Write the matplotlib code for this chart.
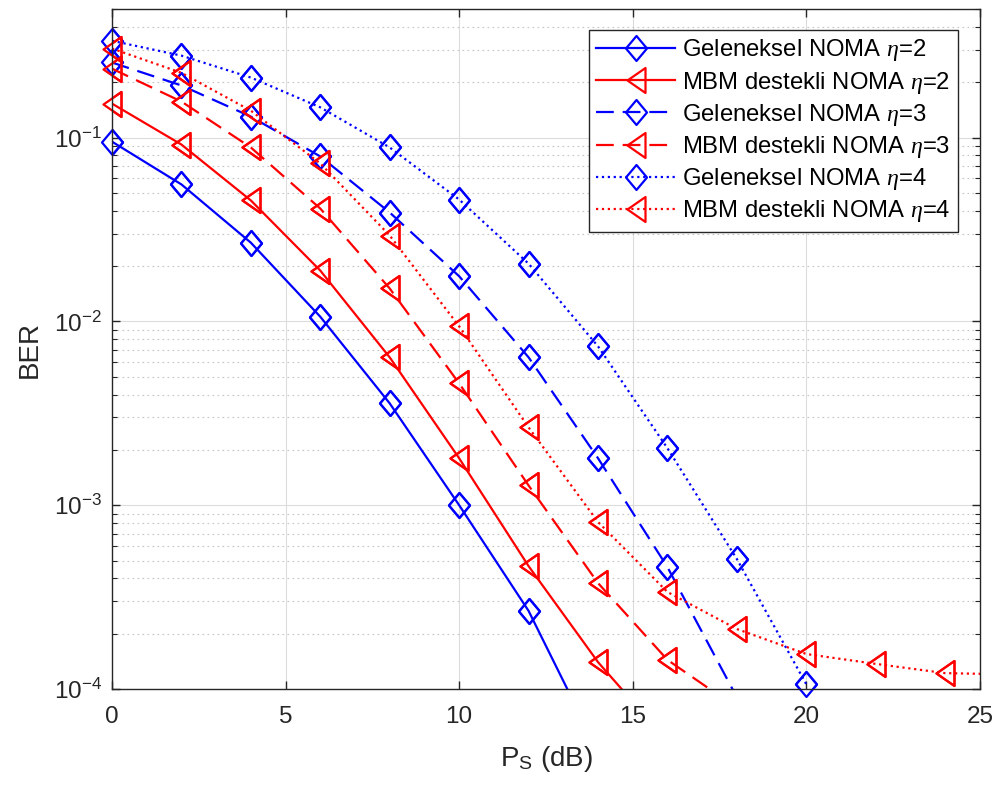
"""BER vs P_S: conventional NOMA vs MBM-aided NOMA for eta = 2, 3, 4."""
import matplotlib
matplotlib.use("Agg")
import matplotlib.pyplot as plt
import numpy as np
from matplotlib.path import Path
from matplotlib.ticker import LogLocator, NullFormatter, FixedLocator

plt.rcParams["font.family"] = ["Liberation Sans", "DejaVu Sans"]
plt.rcParams["mathtext.fontset"] = "custom"
plt.rcParams["mathtext.rm"] = "Liberation Sans"
plt.rcParams["mathtext.it"] = "Liberation Serif:italic"
plt.rcParams["mathtext.bf"] = "Liberation Sans:bold"
plt.rcParams["axes.unicode_minus"] = False

# ---- data ----
x_conv2 = [0, 2, 4, 6, 8, 10, 12, 14]
ber_conv2 = [0.095, 0.0556, 0.0268, 0.0106, 0.00358, 0.00100, 2.66e-4, 4.6e-5]

x_mbm2 = [0, 2, 4, 6, 8, 10, 12, 14, 16]
ber_mbm2 = [0.153, 0.0916, 0.0455, 0.0189, 0.00637, 0.00180, 4.66e-4, 1.40e-4, 5.2e-5]

x_conv3 = [0, 2, 4, 6, 8, 10, 12, 14, 16, 18]
ber_conv3 = [0.256, 0.192, 0.130, 0.0789, 0.0391, 0.0176, 0.00637, 0.00180, 4.6e-4, 9.0e-5]

x_mbm3 = [0, 2, 4, 6, 8, 10, 12, 14, 16, 18]
ber_mbm3 = [0.237, 0.157, 0.0883, 0.0411, 0.0151, 0.0046, 0.00128, 3.77e-4, 1.44e-4, 7.9e-5]

x_conv4 = [0, 2, 4, 6, 8, 10, 12, 14, 16, 18, 20]
ber_conv4 = [0.336, 0.279, 0.212, 0.146, 0.0883, 0.046, 0.0206, 0.00731, 0.00204, 5.09e-4, 1.06e-4]

x_mbm4 = [0, 2, 4, 6, 8, 10, 12, 14, 16, 18, 20, 22, 24, 26]
ber_mbm4 = [0.305, 0.225, 0.140, 0.0723, 0.0293, 0.0094, 0.00265, 8.1e-4, 3.37e-4,
            2.12e-4, 1.55e-4, 1.37e-4, 1.22e-4, 1.20e-4]

labels = [r"Geleneksel NOMA $\eta$=2", r"MBM destekli NOMA $\eta$=2",
          r"Geleneksel NOMA $\eta$=3", r"MBM destekli NOMA $\eta$=3",
          r"Geleneksel NOMA $\eta$=4", r"MBM destekli NOMA $\eta$=4"]

# MATLAB-like markers
DIAMOND = Path([(0, 1), (0.84, 0), (0, -1), (-0.84, 0), (0, 1)], closed=True)
LTRI = Path([(-0.72, 0), (0.72, 1), (0.72, -1), (-0.72, 0)], closed=True)

BLUE, RED = "#0000ff", "#ff0000"
DASH = (0, (8, 4))

series = [
    (x_conv2, ber_conv2, BLUE, "-", DIAMOND),
    (x_mbm2, ber_mbm2, RED, "-", LTRI),
    (x_conv3, ber_conv3, BLUE, DASH, DIAMOND),
    (x_mbm3, ber_mbm3, RED, DASH, LTRI),
    (x_conv4, ber_conv4, BLUE, ":", DIAMOND),
    (x_mbm4, ber_mbm4, RED, ":", LTRI),
]

YMIN, YMAX = 1e-4, 0.5

fig = plt.figure(figsize=(9.96, 7.87), dpi=100)
ax = fig.add_axes([0.1124, 0.1245, 0.8715, 0.864])

for (x, y, c, ls, m), lab in zip(series, labels):
    x = np.array(x)
    y = np.array(y)
    idx = np.where((y >= YMIN) & (x <= 25))[0]
    ax.plot(x, y, color=c, ls=ls, lw=1.6, marker=m, ms=18, mfc="none",
            mec=c, mew=1.6, markevery=list(idx), label=lab)
    # markers are not cut at the axes edge in the original
    ax.plot(x[idx], y[idx], ls="none", marker=m, ms=18, mfc="none",
            mec=c, mew=1.6, clip_on=False)

ax.set_yscale("log")
ax.set_xlim(0, 25)
ax.set_ylim(YMIN, YMAX)
ax.set_xticks([0, 5, 10, 15, 20, 25])
ax.yaxis.set_major_locator(FixedLocator([1e-4, 1e-3, 1e-2, 1e-1]))
ax.yaxis.set_minor_locator(LogLocator(base=10, subs=np.arange(2, 10), numticks=20))
ax.yaxis.set_minor_formatter(NullFormatter())

ax.set_axisbelow(True)
ax.grid(True, which="major", color="#dcdcdc", lw=0.8, ls="-")
ax.grid(True, which="minor", axis="y", color="#c4c4c4", lw=0.8, ls=(0, (1.5, 3)))

ax.tick_params(which="both", direction="in", top=True, right=True,
               colors="#262626", labelsize=17.5)
ax.tick_params(which="major", length=6, width=1.0)
ax.tick_params(which="minor", length=3.5, width=0.8)
ax.tick_params(axis="x", pad=12)
ax.tick_params(axis="y", pad=7)
for s in ax.spines.values():
    s.set_color("#262626")
    s.set_linewidth(1.0)

ax.set_xlabel(r"P$_{\mathrm{S}}$ (dB)", fontsize=20, color="#262626", labelpad=12)
ax.set_ylabel("BER", fontsize=20, color="#262626", labelpad=8)

leg = ax.legend(loc="upper right", bbox_to_anchor=(0.9747, 0.969), borderaxespad=0,
                fontsize=17.2, handlelength=3.3, handletextpad=0.3, labelspacing=0.26,
                borderpad=0.3, numpoints=1, fancybox=False, framealpha=1,
                edgecolor="#262626")
leg.get_frame().set_linewidth(1.0)

fig.savefig("out.png", dpi=100, facecolor="white")
